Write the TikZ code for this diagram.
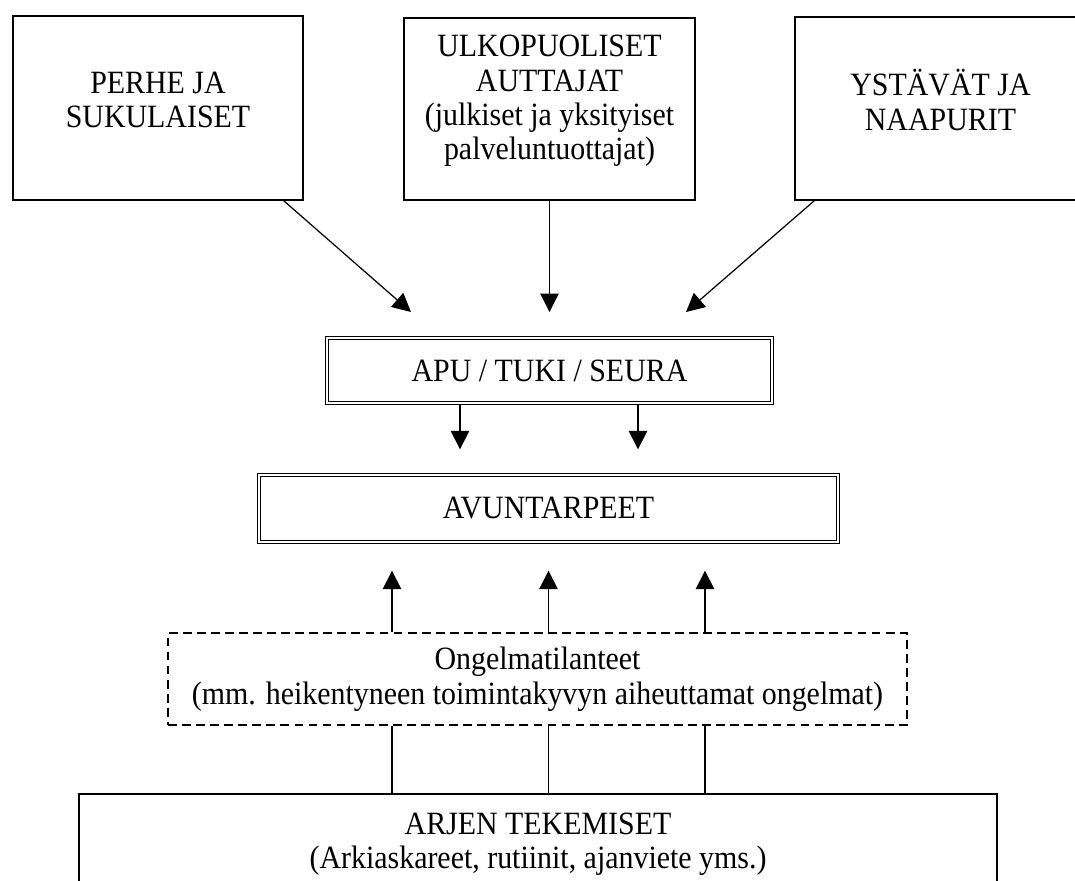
\documentclass[tikz,border=0pt]{standalone}
\usepackage{fontspec}
\setmainfont{Liberation Serif}[FakeStretch=0.92]
\usetikzlibrary{arrows.meta}
\tikzset{box/.style = {draw, line width=0.85pt, inner sep=0pt, align=center},
         dblbox/.style = {box, double, line width=0.75pt, double distance=0.8pt},
         dashbox/.style = {box, line width=0.75pt, dash pattern=on 5pt off 3pt},
         boxtext/.style = {inner sep=0pt, align=center},
         arr/.style = {line width=0.7pt, -{Triangle[width=10.5pt, length=10.5pt]}}}

\begin{document}
\begin{tikzpicture}[font=\fontsize{18.5}{19.6}\selectfont]
  \useasboundingbox (0,0) rectangle (21.5,-17.6);
  \clip (0,0) rectangle (21.5,-17.6);
  % who helps
  \node [box, minimum width=5.8cm, minimum height=3.68cm] (perhe) at (3.16,-2.16) {};
  \node [box, minimum width=5.82cm, minimum height=3.64cm] (ulko) at (10.99,-2.18) {};
  \node [box, minimum width=5.82cm, minimum height=3.66cm] (ystavat) at (18.81,-2.17) {};
  \node [boxtext] (perhetxt) at (3.16,-2.0) {PERHE JA\\SUKULAISET};
  \node [boxtext] (ulkotxt) at (10.99,-2.02) {ULKOPUOLISET\\AUTTAJAT\\(julkiset ja yksityiset\\palveluntuottajat)};
  \node [boxtext] (ystavattxt) at (18.81,-2.0) {YSTÄVÄT JA\\NAAPURIT};
  % middle part
  \node [dblbox, minimum width=8.9cm, minimum height=1.3cm] (apu) at (10.99,-7.41) {APU / TUKI / SEURA};
  \node [dblbox, minimum width=11.58cm, minimum height=1.34cm] (avun) at (10.97,-10.17) {AVUNTARPEET};
  \node [dashbox, minimum width=14.78cm, minimum height=1.84cm] (ongel) at (10.75,-13.58) {Ongelmatilanteet\\(mm. heikentyneen toimintakyvyn aiheuttamat ongelmat)};
  \node [box, minimum width=18.36cm, minimum height=2cm] (arjen) at (10.76,-16.88) {ARJEN TEKEMISET\\(Arkiaskareet, rutiinit, ajanviete yms.)};
  % arrows
  \coordinate (in1) at (8.22,-6.24);
  \coordinate (in2) at (10.99,-6.24);
  \coordinate (in3) at (13.72,-6.24);
  \draw [arr] ([xshift=-0.4cm]perhe.south east) -- (in1);
  \draw [arr] (ulko.south) -- (in2);
  \draw [arr] ([xshift=0.4cm]ystavat.south west) -- (in3);
  \foreach \x in {9.2, 12.76}
    \draw [arr, shorten >=0.5cm] (\x,0 |- apu.south) -- (\x,0 |- avun.north);
  \foreach \x in {7.84, 10.97, 14.1}
    \draw [arr, shorten >=0.56cm] (\x,0 |- ongel.north) -- (\x,0 |- avun.south);
  \foreach \x in {7.84, 10.97, 14.1}
    \draw [line width=0.7pt] (\x,0 |- arjen.north) -- (\x,0 |- ongel.south);
\end{tikzpicture}
\end{document}
